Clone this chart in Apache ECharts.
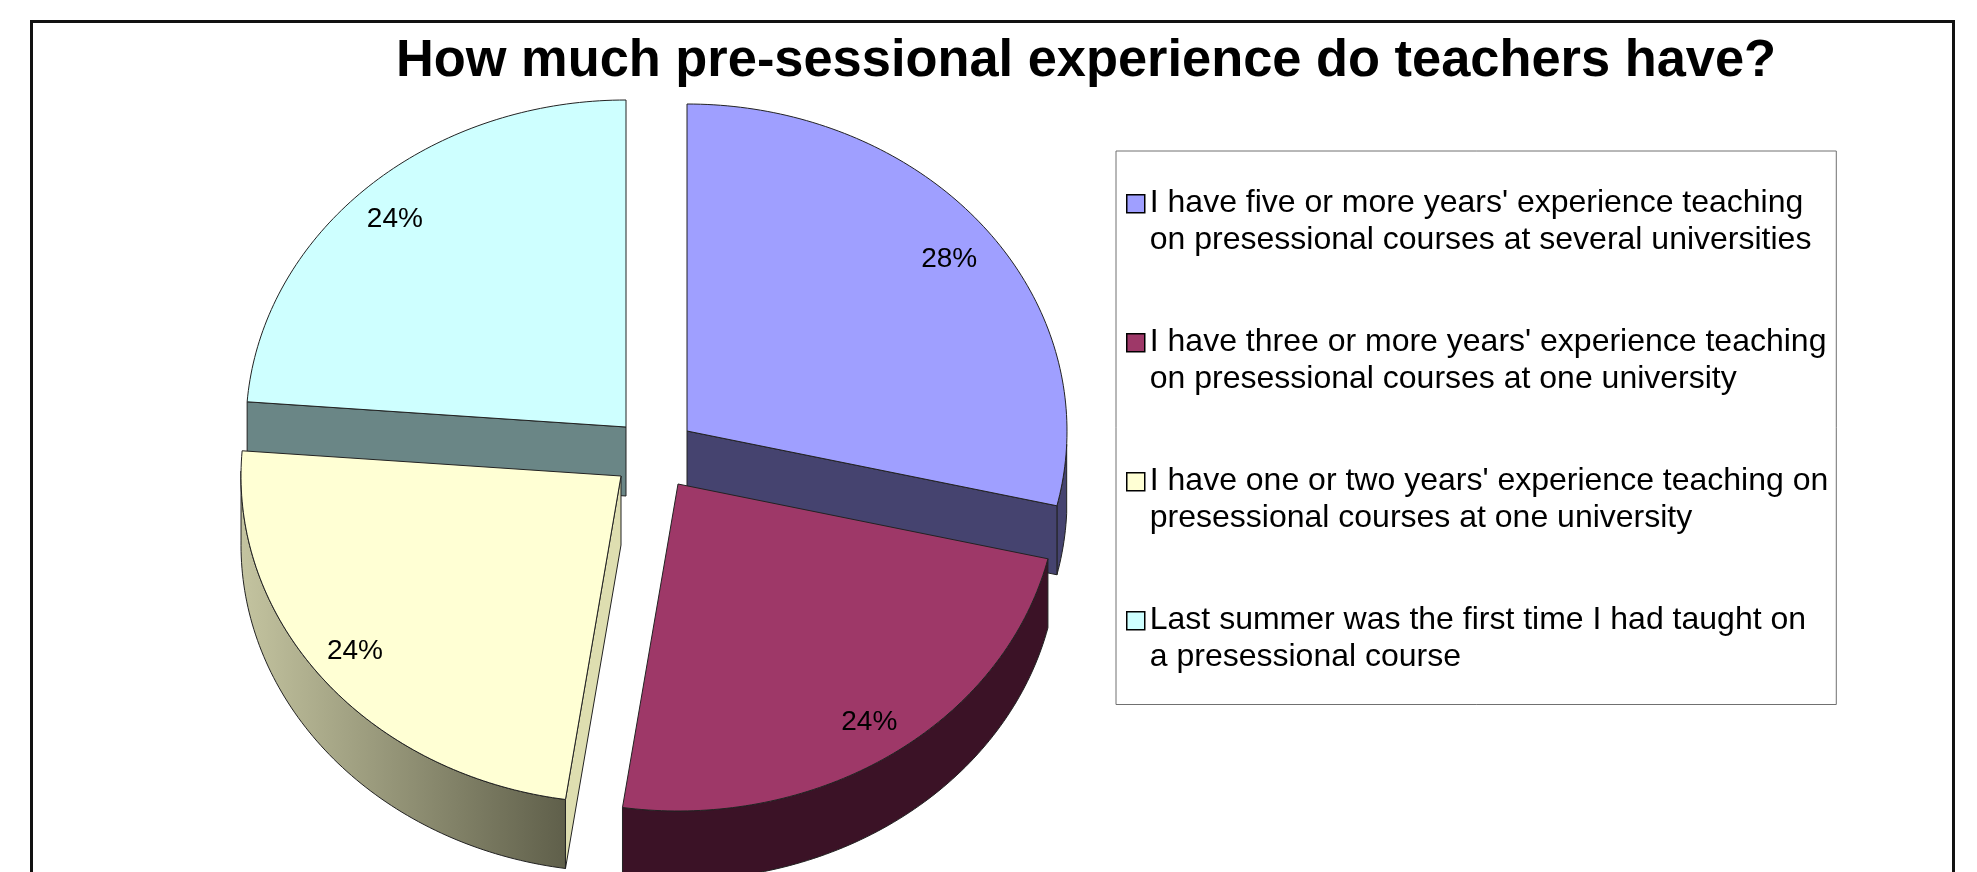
<!DOCTYPE html>
<html>
<head>
<meta charset="utf-8">
<style>html,body{margin:0;padding:0;background:#fff}#c{width:1977px;height:872px}</style>
<script src="https://cdn.jsdelivr.net/npm/echarts@6/dist/echarts.min.js"></script>
</head>
<body>
<div id="c"></div>
<script>
const titleText = 'How much pre-sessional experience do teachers have?';
const categories = [
  "I have five or more years' experience teaching\non presessional courses at several universities",
  "I have three or more years' experience teaching\non presessional courses at one university",
  "I have one or two years' experience teaching on\npresessional courses at one university",
  "Last summer was the first time I had taught on\na presessional course"
];
const values = [28, 24, 24, 24];

const topColors = ['#9F9FFF', '#9E3868', '#FFFFD4', '#CEFFFF'];
const cutColors = ['#45436F', '#3B1226', '#DEDEB0', '#6A8686'];
const rimLeft   = ['#45436F', '#3B1226', '#C4C4A0', '#6A8686'];
const rimRight  = ['#45436F', '#3B1226', '#5F5F4A', '#6A8686'];
const apexX = [687, 678, 621, 626];
const apexY = [431, 484, 476, 427];
const labelDx = [1, 5, -6, -4];
const labelDy = [5, 1, -3, 1];
const zOrder = [2, 4, 3, 1];
const RX = 380, RY = 327, DEPTH = 69, LABEL_R = 0.875;
const FONT = '"Liberation Sans", Arial, sans-serif';
const total = values.reduce((a, b) => a + b, 0);
const rad = d => d * Math.PI / 180;

// slight perspective correction of the drawn ellipse angle
const warp = t => t + 1.124 + 0.742 * Math.cos(rad(t)) + 0.642 * Math.sin(rad(t)) + 0.482 * Math.cos(rad(2 * t));

function makeItem(idx) {
  return function (params, api) {
    const value = api.value(0);
    let before = 0;
    for (let i = 0; i < idx; i++) before += values[i];
    const t0 = -90 + before / total * 360;
    const t1 = t0 + value / total * 360;
    const cx = apexX[idx], cy = apexY[idx];
    const pt = (t, dz) => {
      const w = warp(t);
      return [cx + RX * Math.cos(rad(w)), cy + RY * Math.sin(rad(w)) + (dz || 0)];
    };
    const arc = (a, b, dz) => {
      const out = [], n = Math.max(2, Math.ceil(Math.abs(b - a)));
      for (let i = 0; i <= n; i++) out.push(pt(a + (b - a) * i / n, dz));
      return out;
    };
    const line = { stroke: '#222', lineWidth: 1, lineJoin: 'round' };
    const children = [];

    // outer rim: only the part of the arc on the near side of the pie
    for (const off of [-360, 0, 360]) {
      const a = Math.max(t0, off), b = Math.min(t1, off + 180);
      if (b > a) {
        const pts = arc(a, b, 0).concat(arc(a, b, DEPTH).reverse());
        children.push({
          type: 'polygon', shape: { points: pts },
          style: Object.assign({
            fill: new echarts.graphic.LinearGradient(0, 0, 1, 0, [
              { offset: 0, color: rimLeft[idx] },
              { offset: 1, color: rimRight[idx] }
            ])
          }, line)
        });
      }
    }
    // cut faces, where their outward side looks toward the viewer
    const cutFace = t => {
      const p = pt(t, 0), q = pt(t, DEPTH);
      children.push({
        type: 'polygon',
        shape: { points: [[cx, cy], p, q, [cx, cy + DEPTH]] },
        style: Object.assign({ fill: cutColors[idx] }, line)
      });
    };
    if (Math.cos(rad(t0)) < -1e-6) cutFace(t0);
    if (Math.cos(rad(t1)) > 1e-6) cutFace(t1);

    // top face
    children.push({
      type: 'polygon',
      shape: { points: [[cx, cy]].concat(arc(t0, t1, 0)) },
      style: Object.assign({ fill: topColors[idx] }, line)
    });
    // percentage label
    const mid = warp((t0 + t1) / 2);
    children.push({
      type: 'text',
      style: {
        text: Math.round(value / total * 100) + '%',
        x: cx + LABEL_R * RX * Math.cos(rad(mid)) + labelDx[idx],
        y: cy + LABEL_R * RY * Math.sin(rad(mid)) + labelDy[idx],
        align: 'center', verticalAlign: 'middle',
        fill: '#000', fontSize: 28, fontFamily: FONT
      }
    });
    return { type: 'group', children };
  };
}

const chart = echarts.init(document.getElementById('c'), null, { renderer: 'canvas' });
chart.setOption({
  animation: false,
  backgroundColor: '#fff',
  title: {
    text: titleText, left: 1081, top: 31, textAlign: 'center',
    textStyle: { fontFamily: FONT, fontWeight: 'bold', fontSize: 52.4, color: '#000' }
  },
  legend: {
    orient: 'vertical', align: 'left', left: 1116, top: 151,
    data: categories, selectedMode: false,
    icon: 'path://M0,0L0,0M0,72L0,72M0,9L18,9L18,27L0,27Z',
    itemWidth: 18, itemHeight: 72, itemGap: 65.5,
    padding: [34, 8, 29, 10],
    backgroundColor: '#fff', borderColor: '#707070', borderWidth: 1,
    itemStyle: { borderColor: '#000', borderWidth: 1.5 },
    textStyle: { fontFamily: FONT, fontSize: 32, lineHeight: 36.5, color: '#000' }
  },
  graphic: [{
    type: 'polyline', silent: true,
    shape: { points: [[31.5, 872], [31.5, 21.5], [1953.5, 21.5], [1953.5, 872]] },
    style: { stroke: '#111', lineWidth: 3, fill: null }
  }],
  series: values.map((v, i) => ({
    type: 'custom',
    name: categories[i],
    coordinateSystem: 'none',
    z: zOrder[i],
    itemStyle: { color: topColors[i] },
    data: [[v]],
    renderItem: makeItem(i)
  }))
});
</script>
</body>
</html>
